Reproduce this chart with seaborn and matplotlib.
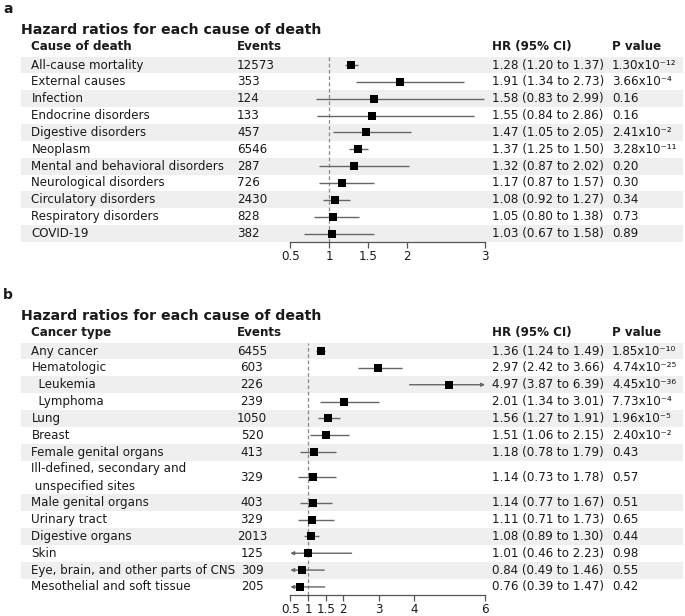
# === Forest plot: hazard ratios por causa de muerte ===
import matplotlib.pyplot as plt
import matplotlib.transforms as mtransforms
from matplotlib.patches import Rectangle
import pandas as pd
import seaborn as sns

# === Datos panel a ===
causas = ['All-cause mortality', 'External causes', 'Infection', 'Endocrine disorders',
          'Digestive disorders', 'Neoplasm', 'Mental and behavioral disorders',
          'Neurological disorders', 'Circulatory disorders', 'Respiratory disorders', 'COVID-19']
eventos_a = [12573, 353, 124, 133, 457, 6546, 287, 726, 2430, 828, 382]
hr_a = [1.28, 1.91, 1.58, 1.55, 1.47, 1.37, 1.32, 1.17, 1.08, 1.05, 1.03]
low_a = [1.20, 1.34, 0.83, 0.84, 1.05, 1.25, 0.87, 0.87, 0.92, 0.80, 0.67]
up_a = [1.37, 2.73, 2.99, 2.86, 2.05, 1.50, 2.02, 1.57, 1.27, 1.38, 1.58]
p_a = ['1.30x10⁻¹²', '3.66x10⁻⁴', '0.16', '0.16', '2.41x10⁻²', '3.28x10⁻¹¹',
       '0.20', '0.30', '0.34', '0.73', '0.89']
ticks_a = [0.5, 1, 1.5, 2, 3]

# === Datos panel b ===
tipos = ['Any cancer', 'Hematologic', '  Leukemia', '  Lymphoma', 'Lung', 'Breast',
         'Female genital organs', 'Ill-defined, secondary and\n unspecified sites',
         'Male genital organs', 'Urinary tract', 'Digestive organs', 'Skin',
         'Eye, brain, and other parts of CNS', 'Mesothelial and soft tissue']
eventos_b = [6455, 603, 226, 239, 1050, 520, 413, 329, 403, 329, 2013, 125, 309, 205]
hr_b = [1.36, 2.97, 4.97, 2.01, 1.56, 1.51, 1.18, 1.14, 1.14, 1.11, 1.08, 1.01, 0.84, 0.76]
low_b = [1.24, 2.42, 3.87, 1.34, 1.27, 1.06, 0.78, 0.73, 0.77, 0.71, 0.89, 0.46, 0.49, 0.39]
up_b = [1.49, 3.66, 6.39, 3.01, 1.91, 2.15, 1.79, 1.78, 1.67, 1.73, 1.30, 2.23, 1.46, 1.47]
p_b = ['1.85x10⁻¹⁰', '4.74x10⁻²⁵', '4.45x10⁻³⁶', '7.73x10⁻⁴', '1.96x10⁻⁵', '2.40x10⁻²',
       '0.43', '0.57', '0.51', '0.65', '0.44', '0.98', '0.55', '0.42']
ticks_b = [0.5, 1, 1.5, 2, 3, 4, 6]

sns.set_style('white')
plt.rcParams['font.family'] = ['DejaVu Sans']
plt.rcParams['text.color'] = '#1a1a1a'
plt.rcParams['xtick.color'] = '#1a1a1a'

W, H = 685, 616
fig = plt.figure(figsize=(W / 100, H / 100), dpi=100)
fy = lambda y: 1 - y / H

FS = 8.6
ROW = 16.85
GRIS_LINEA = '#666666'


def panel(letra, y0, col_nombre, nombres, eventos, hr, low, up, pvals, ticks, eventos_centrados, alturas=None):
    n = len(nombres)
    if alturas is None:
        alturas = [1] * n
    total = sum(alturas)
    top = y0 + 56.6
    bottom = top + total * ROW

    # Encabezados
    fig.text(3 / W, fy(y0 + 9), letra, fontsize=10, fontweight='bold', va='center')
    fig.text(21 / W, fy(y0 + 30), 'Hazard ratios for each cause of death', fontsize=10.2,
             fontweight='bold', va='center')
    fig.text(31.5 / W, fy(y0 + 46.7), col_nombre, fontsize=FS, fontweight='bold', va='center')
    fig.text(237 / W, fy(y0 + 46.7), 'Events', fontsize=FS, fontweight='bold', va='center')
    fig.text(492 / W, fy(y0 + 46.7), 'HR (95% CI)', fontsize=FS, fontweight='bold', va='center')
    fig.text(612 / W, fy(y0 + 46.7), 'P value', fontsize=FS, fontweight='bold', va='center')

    ax = fig.add_axes([290.3 / W, fy(bottom), (485 - 290.3) / W, (bottom - top) / H])
    ax.set_facecolor('none')
    xmin, xmax = ticks[0], ticks[-1]
    ax.set_xlim(xmin, xmax)
    ax.set_ylim(total, 0)
    trans = mtransforms.blended_transform_factory(fig.transFigure, ax.transData)

    centros = []
    pos = 0
    for i, h in enumerate(alturas):
        if i % 2 == 0:
            ax.add_patch(Rectangle((20.5 / W, pos), (683 - 20.5) / W, h, transform=trans,
                                   facecolor='#efefef', edgecolor='none', zorder=0, clip_on=False))
        centros.append(pos + h / 2)
        pos += h

    df = pd.DataFrame({'hr': hr, 'low': low, 'up': up, 'y': centros})

    ax.axvline(1, color='#888888', ls=(0, (3, 2)), lw=0.9, zorder=1)

    for _, r in df.iterrows():
        lo, hi = max(r['low'], xmin), min(r['up'], xmax)
        if r['low'] < xmin:
            ax.annotate('', xy=(xmin, r['y']), xytext=(hi, r['y']),
                        arrowprops=dict(arrowstyle='-|>', color=GRIS_LINEA, lw=1, shrinkA=0,
                                        shrinkB=0, mutation_scale=5), zorder=2)
        elif r['up'] > xmax:
            ax.annotate('', xy=(xmax, r['y']), xytext=(lo, r['y']),
                        arrowprops=dict(arrowstyle='-|>', color=GRIS_LINEA, lw=1, shrinkA=0,
                                        shrinkB=0, mutation_scale=5), zorder=2)
        else:
            ax.hlines(r['y'], lo, hi, color=GRIS_LINEA, lw=1, zorder=2)

    sns.scatterplot(data=df, x='hr', y='y', marker='s', s=28, color='black', edgecolor='black',
                    linewidth=0, zorder=3, ax=ax, legend=False)

    for i in range(n):
        y = centros[i]
        ax.text(31.5 / W, y, nombres[i], transform=trans, fontsize=FS, va='center',
                linespacing=1.45)
        if eventos_centrados:
            ax.text(252 / W, y, str(eventos[i]), transform=trans, fontsize=FS, va='center', ha='center')
        else:
            ax.text(237 / W, y, str(eventos[i]), transform=trans, fontsize=FS, va='center')
        ax.text(492 / W, y, f'{hr[i]:.2f} ({low[i]:.2f} to {up[i]:.2f})', transform=trans,
                fontsize=FS, va='center')
        ax.text(612 / W, y, pvals[i], transform=trans, fontsize=FS, va='center')

    ax.set_xticks(ticks)
    ax.set_xticklabels([f'{t:g}' for t in ticks])
    ax.set_yticks([])
    ax.set_xlabel('')
    ax.set_ylabel('')
    for s in ['left', 'top', 'right']:
        ax.spines[s].set_visible(False)
    ax.spines['bottom'].set_color('#555555')
    ax.spines['bottom'].set_linewidth(0.9)
    ax.tick_params(axis='x', length=4, width=0.9, color='#555555', labelsize=FS, pad=1.5,
                   bottom=True)


panel('a', 0, 'Cause of death', causas, eventos_a, hr_a, low_a, up_a, p_a, ticks_a, False)
panel('b', 286, 'Cancer type', tipos, eventos_b, hr_b, low_b, up_b, p_b, ticks_b, True,
      alturas=[1] * 7 + [2] + [1] * 6)

fig.savefig('out.png', dpi=100)
